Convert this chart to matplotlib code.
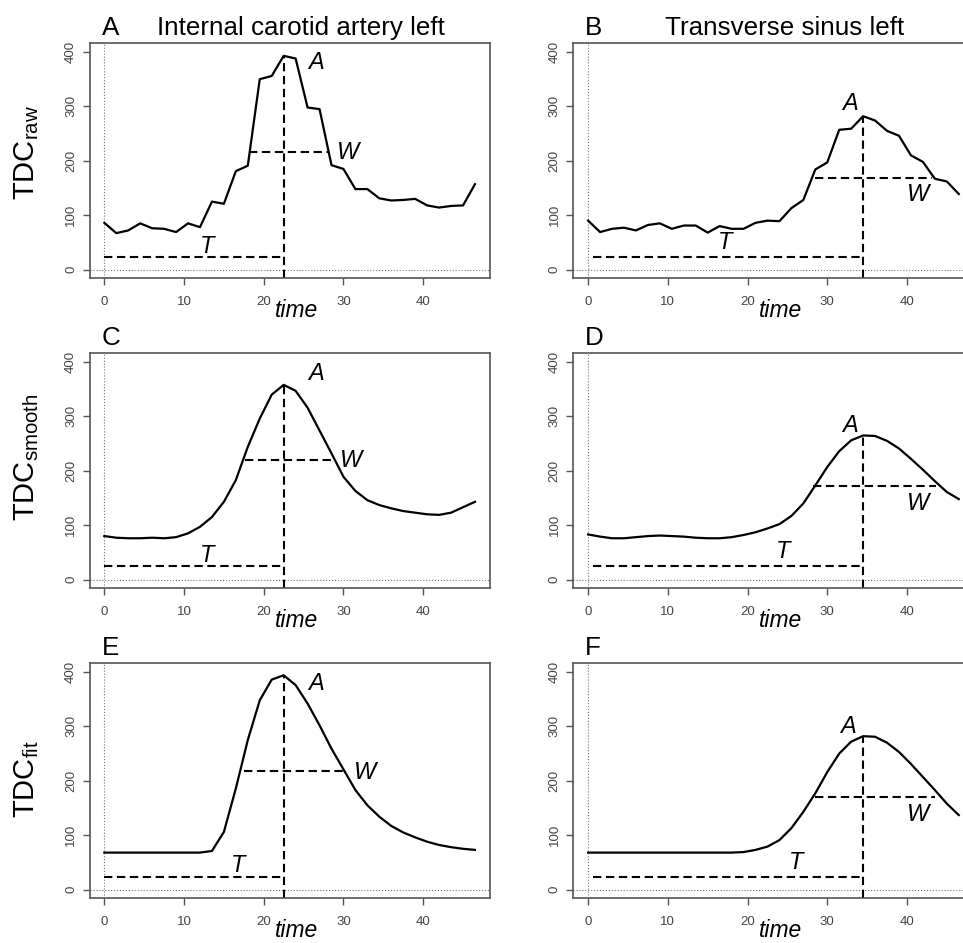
import numpy as np
import matplotlib as mpl
import matplotlib.pyplot as plt

mpl.rcParams['font.family'] = ['Liberation Sans', 'DejaVu Sans']
mpl.rcParams['mathtext.fontset'] = 'custom'
mpl.rcParams['mathtext.rm'] = 'Liberation Sans'
mpl.rcParams['mathtext.it'] = 'Liberation Sans:italic'


# --- sampling times (same for every curve)

time = [0, 1.5, 3, 4.5, 6, 7.5, 9, 10.5, 12, 13.5, 15, 16.5, 18, 19.5, 21, 22.5,
        24, 25.5, 27, 28.5, 30, 31.5, 33, 34.5, 36, 37.5, 39, 40.5, 42, 43.5, 45, 46.5]

# --- TDC curves (ICA = internal carotid artery, TS = transverse sinus)

raw_ica = [86, 67, 72, 85, 76, 75, 69, 85, 78, 125, 121, 181, 191, 350, 356, 393,
           388, 298, 295, 192, 185, 148, 148, 131, 127, 128, 130, 118, 114, 117, 118, 157]
raw_ts = [90, 69, 75, 77, 72, 82, 85, 75, 81, 81, 68, 80, 75, 75, 86, 90,
          89, 113, 128, 184, 197, 257, 259, 282, 274, 255, 246, 210, 198, 167, 162, 139]

smooth_ica = [80, 77, 76, 76, 77, 76, 78, 85, 97, 115, 143, 183, 244, 296, 340, 358,
              347, 316, 274, 232, 189, 163, 146, 137, 131, 126, 123, 120, 119, 123, 133, 143]
smooth_ts = [83, 79, 76, 76, 78, 80, 81, 80, 79, 77, 76, 76, 78, 82, 87, 94,
             102, 117, 140, 173, 207, 236, 256, 265, 264, 255, 241, 222, 202, 181, 161, 148]

fit_ica = [68, 68, 68, 68, 68, 68, 68, 68, 68, 71, 106, 186, 275, 348, 386, 394,
           376, 342, 302, 259, 221, 183, 155, 134, 117, 105, 96, 88, 82, 78, 75, 73]
fit_ts = [68, 68, 68, 68, 68, 68, 68, 68, 68, 68, 68, 68, 68, 69, 73, 79,
          91, 113, 143, 177, 216, 250, 272, 282, 281, 270, 253, 231, 207, 183, 158, 137]

series = [raw_ica, raw_ts, smooth_ica, smooth_ts, fit_ica, fit_ts]

panel_letters = ['A', 'B', 'C', 'D', 'E', 'F']
titles = ['Internal carotid artery left', 'Transverse sinus left']
row_labels = [r'TDC$_{\mathrm{raw}}$', r'TDC$_{\mathrm{smooth}}$', r'TDC$_{\mathrm{fit}}$']

# --- annotation values: T line (level, start), half maximum line (level, from, to)

t_level = [22.6, 22.6, 25, 25, 24, 24]
t_start = [0, 0.55, 0, 0.55, 0, 0.55]
w_level = [217, 168.5, 219, 171.5, 218.5, 169.5]
w_from = [18.2, 28.45, 17.6, 28.2, 17.5, 28.45]
w_to = [28.1, 43.2, 28.5, 43.7, 30.1, 43.5]

# label anchors (x, baseline y) of the A / W / T letters
a_pos = [(26.6, 368), (32.8, 294), (26.6, 367), (32.8, 271), (26.6, 366), (32.6, 287)]
w_pos = [(30.6, 203), (41.4, 126), (31.0, 207), (41.4, 128), (32.7, 204), (41.4, 127)]
t_pos = [(12.85, 31), (17.2, 37), (12.85, 33), (24.5, 39), (16.8, 33), (26.1, 37)]


W, H = 963, 943
fig = plt.figure(figsize=(W/100, H/100), dpi=100)

lefts = [89.5, 573.3]
bottoms = [278.3, 588.3, 898.3]
width = 400.3
height = 235.

gray = '#555555'
dash = (0, (4, 2.2))

for i in range(6):

    row, col = i // 2, i % 2
    ax = fig.add_axes((lefts[col]/W, 1 - bottoms[row]/H, width/W, height/H))

    y = series[i]
    k = int(np.argmax(y))
    tp, peak = time[k], y[k]

    # --- reference lines
    ax.axvline(0, color='#777777', lw=0.8, ls=':')
    ax.axhline(0, color='#777777', lw=0.8, ls=':')

    # --- curve
    ax.plot(time, y, color='k', lw=1.6)

    # --- T, A and W markers
    ax.plot([t_start[i], tp], [t_level[i], t_level[i]], color='k', lw=1.5, ls=dash)
    ax.vlines(tp, -16, peak, color='k', lw=1.5, ls=dash)
    ax.plot([w_from[i], w_to[i]], [w_level[i], w_level[i]], color='k', lw=1.5, ls=dash)

    for lab, p in zip(['A', 'W', 'T'], [a_pos[i], w_pos[i], t_pos[i]]):
        ax.text(p[0], p[1], lab, ha='center', va='baseline', style='italic', fontsize=17)

    ax.set_xlim(-1.86, 48.36)
    ax.set_ylim(-16, 416)
    ax.set_xticks([0, 10, 20, 30, 40])
    ax.set_yticks([0, 100, 200, 300, 400])

    for s in ax.spines.values():
        s.set_color(gray)
        s.set_linewidth(1.2)

    ax.tick_params(length=5, width=1, color=gray, labelcolor='#444444', labelsize=9.5)
    ax.tick_params(axis='x', pad=8)
    ax.tick_params(axis='y', pad=4, labelrotation=90)
    for t in ax.get_yticklabels():
        t.set_va('center')

    ax.text(0.517, -0.166, 'time', transform=ax.transAxes, ha='center', va='baseline',
            style='italic', fontsize=16.5)

    ax.text(0.03, 1.036, panel_letters[i], transform=ax.transAxes, ha='left', va='baseline',
            fontsize=18.7)
    if row == 0:
        ax.text(0.528, 1.036, titles[col], transform=ax.transAxes, ha='center', va='baseline',
                fontsize=18.7)

# --- row labels
label_y = [152.5, 456.7, 779]
for r in range(3):
    fig.text(27/W, 1 - label_y[r]/H, row_labels[r], rotation=90, ha='center', va='center',
             fontsize=21)

fig.savefig('out.png', dpi=100)
